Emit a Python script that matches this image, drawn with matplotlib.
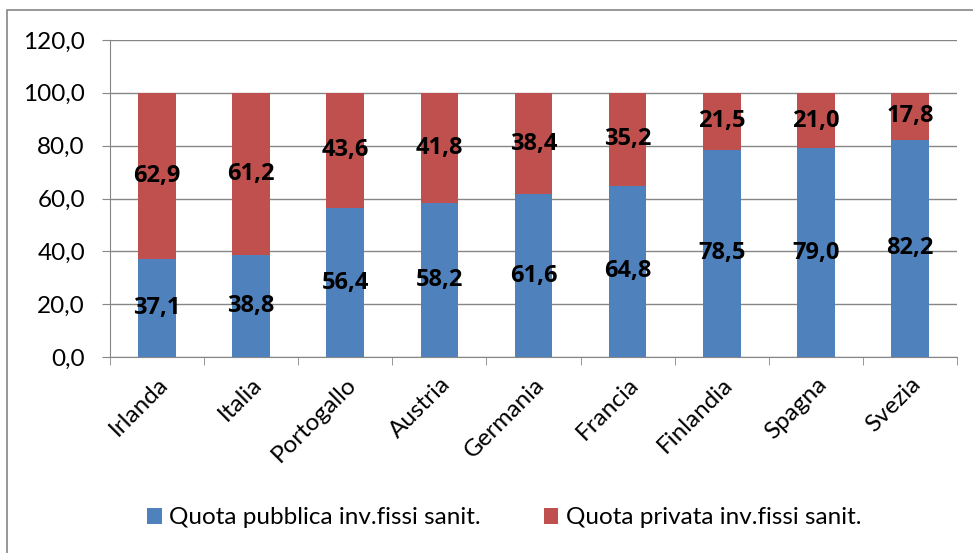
import matplotlib.pyplot as plt
import numpy as np
from matplotlib.patches import Rectangle

paesi = ["Irlanda", "Italia", "Portogallo", "Austria", "Germania",
         "Francia", "Finlandia", "Spagna", "Svezia"]
quota_pubblica = [37.1, 38.8, 56.4, 58.2, 61.6, 64.8, 78.5, 79.0, 82.2]
quota_privata = [62.9, 61.2, 43.6, 41.8, 38.4, 35.2, 21.5, 21.0, 17.8]
y_ticks = [0, 20, 40, 60, 80, 100, 120]

plt.rcParams['font.family'] = ['Lato', 'DejaVu Sans']

fig = plt.figure(figsize=(9.73, 5.53), dpi=100)
ax = fig.add_axes([110/973, 1-357/553, (957-110)/973, (357-40)/553])

x = np.arange(len(paesi))
b1 = ax.bar(x, quota_pubblica, width=0.4, color="#4f81bd", zorder=3,
            label="Quota pubblica inv.fissi sanit.")
b2 = ax.bar(x, quota_privata, width=0.4, bottom=quota_pubblica, color="#c0504d",
            zorder=3, label="Quota privata inv.fissi sanit.")

for xi, pub, priv in zip(x, quota_pubblica, quota_privata):
    ax.text(xi, pub/2, f"{pub:.1f}".replace(".", ","), ha="center", va="center",
            fontsize=17, fontweight="bold", family=["Open Sans", "DejaVu Sans"], zorder=4)
    ax.text(xi, pub + priv/2, f"{priv:.1f}".replace(".", ","), ha="center", va="center",
            fontsize=17, fontweight="bold", family=["Open Sans", "DejaVu Sans"], zorder=4)

ax.set_xlim(-0.5, len(paesi) - 0.5)
ax.set_ylim(0, 120)
ax.set_yticks(y_ticks)
ax.set_yticklabels([f"{v:.1f}".replace(".", ",") for v in y_ticks], fontsize=17.5)
ax.yaxis.grid(True, color="#868686", lw=1, zorder=0)

ax.set_xticks(x)
ax.set_xticklabels(paesi, rotation=45, ha="right", rotation_mode="anchor", fontsize=17.5)
ax.tick_params(axis="x", length=0, pad=12)
ax.set_xticks(np.arange(-0.5, len(paesi)), minor=True)
ax.tick_params(axis="x", which="minor", length=6, color="#868686")
ax.tick_params(axis="y", length=6, color="#868686", pad=12)

for s in ["top", "right"]:
    ax.spines[s].set_visible(False)
for s in ["left", "bottom"]:
    ax.spines[s].set_color("#868686")

fig.legend(handles=[b1, b2], loc="center", bbox_to_anchor=(0.518, 1-518/553),
           ncol=2, frameon=False, fontsize=17.5, handlelength=0.6, handleheight=0.6,
           columnspacing=2.6, handletextpad=0.3)

fig.patches.append(Rectangle((7/973, -5/553), 980/973, 548/553, transform=fig.transFigure,
                             fill=False, edgecolor="#868686", lw=1.2))

plt.savefig("out.png")
